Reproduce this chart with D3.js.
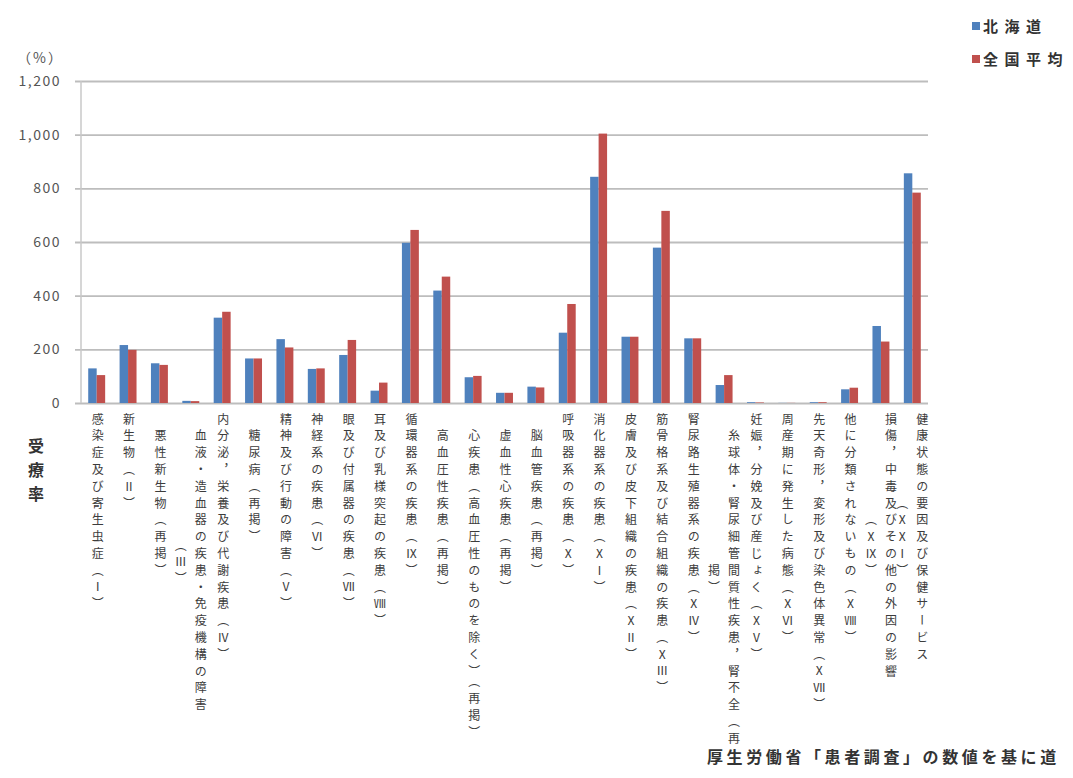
<!DOCTYPE html>
<html>
<head>
<meta charset="utf-8">
<script src="https://cdn.jsdelivr.net/npm/d3@7"></script>
<style>
  body { margin: 0; background: #fff; }
  text { font-family: "Noto Sans CJK JP", "Noto Sans", sans-serif; }
</style>
</head>
<body>
<div id="chart"></div>
<script>
// category labels, one entry per column of vertical text
const categories = [
  ["感染症及び寄生虫症（Ⅰ）"],
  ["新生物（Ⅱ）"],
  ["　悪性新生物（再掲）"],
  ["　血液・造血器の疾患・免疫機構の障害", "（Ⅲ）"],
  ["内分泌，栄養及び代謝疾患（Ⅳ）"],
  ["　糖尿病（再掲）"],
  ["精神及び行動の障害（Ⅴ）"],
  ["神経系の疾患（Ⅵ）"],
  ["眼及び付属器の疾患（Ⅶ）"],
  ["耳及び乳様突起の疾患（Ⅷ）"],
  ["循環器系の疾患（Ⅸ）"],
  ["　高血圧性疾患（再掲）"],
  ["　心疾患（高血圧性のものを除く）（再掲）"],
  ["　虚血性心疾患（再掲）"],
  ["　脳血管疾患（再掲）"],
  ["呼吸器系の疾患（Ⅹ）"],
  ["消化器系の疾患（ⅩⅠ）"],
  ["皮膚及び皮下組織の疾患（ⅩⅡ）"],
  ["筋骨格系及び結合組織の疾患（ⅩⅢ）"],
  ["腎尿路生殖器系の疾患（ⅩⅣ）"],
  ["　糸球体・腎尿細管間質性疾患，腎不全（再", "掲）"],
  ["妊娠，分娩及び産じょく（ⅩⅤ）"],
  ["周産期に発生した病態（ⅩⅥ）"],
  ["先天奇形，変形及び染色体異常（ⅩⅦ）"],
  ["他に分類されないもの（ⅩⅧ）"],
  ["損傷，中毒及びその他の外因の影響", "（ⅩⅨ）"],
  ["健康状態の要因及び保健サービス", "（ⅩⅩⅠ）"]
];

const seriesNames = ["北海道", "全国平均"];

// 受療率 (人口10万対)
const hokkaido = [129, 216, 148, 8, 318, 166, 238, 127, 179, 46, 597, 419, 96, 38, 61,
                  262, 843, 247, 579, 241, 67, 3, 0.5, 3, 51, 287, 856];
const national = [104, 198, 142, 7, 340, 166, 207, 129, 235, 76, 645, 471, 101, 38, 58,
                  369, 1004, 247, 716, 241, 104, 2, 0.5, 3, 57, 229, 784];

const yTicks = [0, 200, 400, 600, 800, 1000, 1200];
const colors = ["#4f81bd", "#c0504d"];

const width = 1073, height = 778;
const plot = {left: 81, right: 928, top: 81, bottom: 403};

const svg = d3.select("#chart").append("svg")
  .attr("width", width)
  .attr("height", height);

// Scales
const x = d3.scaleBand()
  .domain(d3.range(categories.length))
  .range([plot.left, plot.right])
  .paddingInner(0.46)
  .paddingOuter(0.23);

const xSub = d3.scaleBand()
  .domain([0, 1])
  .range([0, x.bandwidth()]);

const y = d3.scaleLinear()
  .domain([0, 1200])
  .range([plot.bottom, plot.top]);

// Gridlines + y axis
const yAxis = d3.axisLeft(y)
  .tickValues(yTicks)
  .tickSize(-(plot.right - plot.left) - 6)
  .tickPadding(14)
  .tickFormat(d3.format(","));

const yAxisG = svg.append("g")
  .attr("transform", `translate(${plot.left - 6},0)`)
  .call(yAxis);
yAxisG.select(".domain").remove();
yAxisG.selectAll(".tick line")
  .attr("stroke", "#bdbdbd")
  .attr("stroke-width", 1.8);
yAxisG.selectAll(".tick text")
  .attr("fill", "#555")
  .style("font-size", "14px")
  .style("letter-spacing", "1.5px");

svg.append("line")
  .attr("x1", plot.left).attr("x2", plot.left)
  .attr("y1", plot.top).attr("y2", plot.bottom)
  .attr("stroke", "#c8c8c8")
  .attr("stroke-width", 1.5);

svg.append("text")
  .attr("x", 64).attr("y", 63)
  .attr("text-anchor", "end")
  .attr("fill", "#555")
  .style("font-size", "14px")
  .style("letter-spacing", "2px")
  .text("（%）");

// Bars
const series = [hokkaido, national];
const groups = svg.append("g").selectAll("g")
  .data(categories.map((c, i) => i))
  .join("g")
  .attr("transform", i => `translate(${x(i)},0)`);

groups.selectAll("rect")
  .data(i => series.map((s, k) => ({k: k, v: s[i]})))
  .join("rect")
  .attr("x", d => xSub(d.k))
  .attr("width", xSub.bandwidth())
  .attr("y", d => y(d.v))
  .attr("height", d => y(0) - y(d.v))
  .attr("fill", d => colors[d.k]);

// Vertical category labels
const pitch = 16.8;
const labelTop = 413;
const labelG = svg.append("g");
categories.forEach((cols, i) => {
  const cx = x(i) + x.bandwidth() / 2;
  const maxLen = d3.max(cols, c => c.length);
  cols.forEach((col, j) => {
    const colX = cols.length === 1 ? cx + 1 : cx + 10 - 20 * j;
    labelG.append("text")
      .attr("x", colX)
      .attr("y", labelTop + (maxLen - col.length) * pitch / 2)
      .attr("fill", "#3c3c3c")
      .style("writing-mode", "vertical-rl")
      .style("font-size", "12px")
      .style("letter-spacing", "4.8px")
      .text(col);
  });
});

// Y title
svg.append("text")
  .attr("x", 36).attr("y", 438)
  .attr("fill", "#333")
  .style("writing-mode", "vertical-rl")
  .style("font-size", "16px")
  .style("font-weight", "bold")
  .style("letter-spacing", "8px")
  .text("受療率");

// Legend
const legend = svg.append("g").selectAll("g")
  .data(seriesNames)
  .join("g")
  .attr("transform", (d, i) => `translate(972,${22 + i * 33})`);
legend.append("rect")
  .attr("width", 8).attr("height", 8)
  .attr("fill", (d, i) => colors[i]);
legend.append("text")
  .attr("x", 11).attr("y", 10)
  .attr("fill", "#333")
  .style("font-size", "15px")
  .style("font-weight", "bold")
  .style("letter-spacing", "6.5px")
  .text(d => d);

// Source note (the reference crops it at the right edge)
svg.append("text")
  .attr("x", 707).attr("y", 763)
  .attr("fill", "#333")
  .style("font-size", "16px")
  .style("font-weight", "bold")
  .style("letter-spacing", "3.6px")
  .text("厚生労働省「患者調査」の数値を基に道");
</script>
</body>
</html>
